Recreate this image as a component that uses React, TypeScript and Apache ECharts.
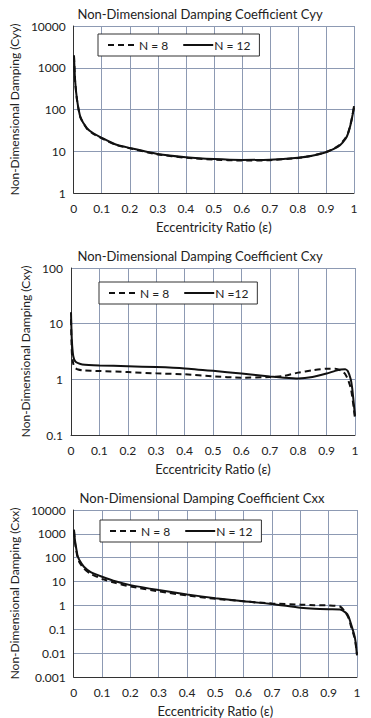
import React, { useEffect, useRef } from "react";
import * as echarts from "echarts";

// ---- Data ----
const xTicks = [0, 0.1, 0.2, 0.3, 0.4, 0.5, 0.6, 0.7, 0.8, 0.9, 1];

const titles = [
  "Non-Dimensional Damping Coefficient Cyy",
  "Non-Dimensional Damping Coefficient Cxy",
  "Non-Dimensional Damping Coefficient Cxx",
];
const yNames = [
  "Non-Dimensional Damping (Cyy)",
  "Non-Dimensional Damping (Cxy)",
  "Non-Dimensional Damping (Cxx)",
];
const xName = "Eccentricity Ratio (\u03b5)";
const yMins = [1, 0.1, 0.001];
const yMaxs = [10000, 100, 10000];
const legendNames = [
  ["N = 8", "N = 12"],
  ["N = 8", "N =12"],
  ["N = 8", "N = 12"],
];

// Cyy
const epsCyy = [0.001, 0.005, 0.012, 0.024, 0.047, 0.07, 0.1, 0.15, 0.2, 0.3, 0.4, 0.5, 0.6, 0.7, 0.8, 0.85, 0.9, 0.93, 0.95, 0.97, 0.98, 0.99, 0.995, 1.0];
const cyyN8 = [1900, 480, 165, 64, 35, 26, 20.5, 14.2, 11.8, 8.4, 7.0, 6.3, 6.0, 6.1, 6.9, 7.8, 9.6, 11.8, 14.5, 21, 29, 52, 76, 110];
const cyyN12 = [2000, 500, 170, 66, 36, 27, 21, 14.5, 12, 8.6, 7.2, 6.5, 6.2, 6.3, 7.0, 7.8, 9.5, 11.5, 14, 20, 28, 50, 75, 120];

// Cxy
const epsCxy = [0.0, 0.003, 0.008, 0.015, 0.025, 0.04, 0.1, 0.2, 0.3, 0.4, 0.5, 0.6, 0.7, 0.75, 0.8, 0.85, 0.9, 0.93, 0.95, 0.965, 0.975, 0.985, 0.99, 0.995, 1.0];
const cxyN8 = [12, 3, 1.9, 1.6, 1.5, 1.45, 1.41, 1.35, 1.28, 1.23, 1.13, 1.07, 1.1, 1.15, 1.32, 1.45, 1.55, 1.55, 1.45, 1.25, 1.0, 0.7, 0.5, 0.32, 0.2];
const cxyN12 = [16, 5, 2.6, 2.1, 1.95, 1.85, 1.78, 1.72, 1.66, 1.57, 1.42, 1.27, 1.12, 1.07, 1.04, 1.1, 1.27, 1.42, 1.5, 1.52, 1.4, 1.0, 0.7, 0.4, 0.22];

// Cxx
const epsCxx = [0.001, 0.004, 0.007, 0.013, 0.02, 0.036, 0.06, 0.1, 0.15, 0.2, 0.3, 0.4, 0.5, 0.6, 0.7, 0.8, 0.85, 0.9, 0.94, 0.96, 0.97, 0.98, 0.99, 0.995, 1.0];
const cxxN8 = [1300, 500, 280, 110, 65, 35, 21, 13, 8.6, 6.2, 3.9, 2.6, 1.9, 1.5, 1.2, 1.08, 1.02, 1.0, 0.9, 0.5, 0.3, 0.12, 0.05, 0.025, 0.009];
const cxxN12 = [1500, 600, 340, 130, 80, 42, 25, 16, 10, 7.1, 4.4, 2.9, 2.0, 1.5, 1.15, 0.8, 0.72, 0.69, 0.68, 0.5, 0.35, 0.15, 0.06, 0.03, 0.008];

const seriesSets = [
  { eps: epsCyy, n8: cyyN8, n12: cyyN12 },
  { eps: epsCxy, n8: cxyN8, n12: cxyN12 },
  { eps: epsCxx, n8: cxxN8, n12: cxxN12 },
];

// ---- Layout ----
const FONT = "Lato";
const grids = [
  { left: 70, right: 17, top: 26, height: 167 },
  { left: 71, right: 16, top: 268, height: 167 },
  { left: 73, right: 14, top: 510, height: 167 },
];
const titleY = [14, 256, 498];
const titleX = [200, 200, 202];
const yNameGaps = [46, 38, 50];
const legendPos = [
  { left: 98, top: 34 },
  { left: 99, top: 282 },
  { left: 100, top: 520 },
];

const GRID_COLOR = "#8d9ab3";
const TEXT_COLOR = "#222";

function fmtY(v: number) {
  return String(Number(v.toPrecision(3)));
}
function fmtX(v: number) {
  return String(Number(v.toFixed(2)));
}

export default function App() {
  const ref = useRef<HTMLDivElement>(null);
  useEffect(() => {
    if (!ref.current) return;
    const chart = echarts.init(ref.current, null, { renderer: "svg" });

    const xAxis = grids.map((_, i) => ({
      type: "value",
      gridIndex: i,
      min: xTicks[0],
      max: xTicks[xTicks.length - 1],
      interval: 0.1,
      name: xName,
      nameLocation: "middle",
      nameGap: 27,
      nameTextStyle: { fontFamily: FONT, fontSize: 13, color: TEXT_COLOR },
      axisLine: { show: true, lineStyle: { color: "#333", width: 1 } },
      axisTick: { show: false },
      axisLabel: { fontFamily: FONT, fontSize: 12, color: TEXT_COLOR, margin: 9, formatter: fmtX },
      splitLine: { show: true, lineStyle: { color: GRID_COLOR, width: 1 } },
    }));

    const yAxis = grids.map((_, i) => ({
      type: "log",
      logBase: 10,
      gridIndex: i,
      min: yMins[i],
      max: yMaxs[i],
      name: yNames[i],
      nameLocation: "middle",
      nameGap: yNameGaps[i],
      nameTextStyle: { fontFamily: FONT, fontSize: 12, color: TEXT_COLOR },
      axisLine: { show: true, lineStyle: { color: "#333", width: 1 } },
      axisTick: { show: false },
      axisLabel: { fontFamily: FONT, fontSize: 12, color: TEXT_COLOR, margin: 8, formatter: fmtY },
      splitLine: { show: true, lineStyle: { color: GRID_COLOR, width: 1 } },
    }));

    const series: any[] = [];
    seriesSets.forEach((s, i) => {
      series.push({
        type: "line",
        name: legendNames[i][0],
        xAxisIndex: i,
        yAxisIndex: i,
        data: s.eps.map((e, k) => [e, s.n8[k]]),
        showSymbol: false,
        symbol: "none",
        smooth: 0.2,
        lineStyle: { color: "#111", width: 2, type: [6, 4] },
        itemStyle: { color: "#111" },
      });
      series.push({
        type: "line",
        name: legendNames[i][1],
        xAxisIndex: i,
        yAxisIndex: i,
        data: s.eps.map((e, k) => [e, s.n12[k]]),
        showSymbol: false,
        symbol: "none",
        smooth: 0.2,
        lineStyle: { color: "#111", width: 2, type: "solid" },
        itemStyle: { color: "#111" },
      });
    });

    const legend = legendNames.map((names, i) => ({
      left: legendPos[i].left,
      top: legendPos[i].top,
      data: names,
      orient: "horizontal",
      itemWidth: 30,
      itemHeight: 10,
      itemGap: 14,
      padding: [5, 9],
      borderColor: "#333",
      borderWidth: 1,
      backgroundColor: "#fff",
      selectedMode: false,
      itemStyle: { opacity: 0 },
      textStyle: { fontFamily: FONT, fontSize: 12, color: TEXT_COLOR, padding: [0, 0, 0, -4] },
    }));

    const graphic = titles.map((t, i) => ({
      type: "text",
      x: titleX[i],
      y: titleY[i],
      style: {
        text: t,
        fontFamily: FONT,
        fontSize: 13,
        fill: TEXT_COLOR,
        textAlign: "center",
        textVerticalAlign: "middle",
      },
    }));

    chart.setOption({
      animation: false,
      backgroundColor: "#fff",
      grid: grids,
      xAxis,
      yAxis,
      series,
      legend,
      graphic,
    });
    return () => chart.dispose();
  }, []);
  return (
    <div
      ref={ref}
      style={{ position: "fixed", left: 0, top: 0, width: 371, height: 718 }}
    />
  );
}
